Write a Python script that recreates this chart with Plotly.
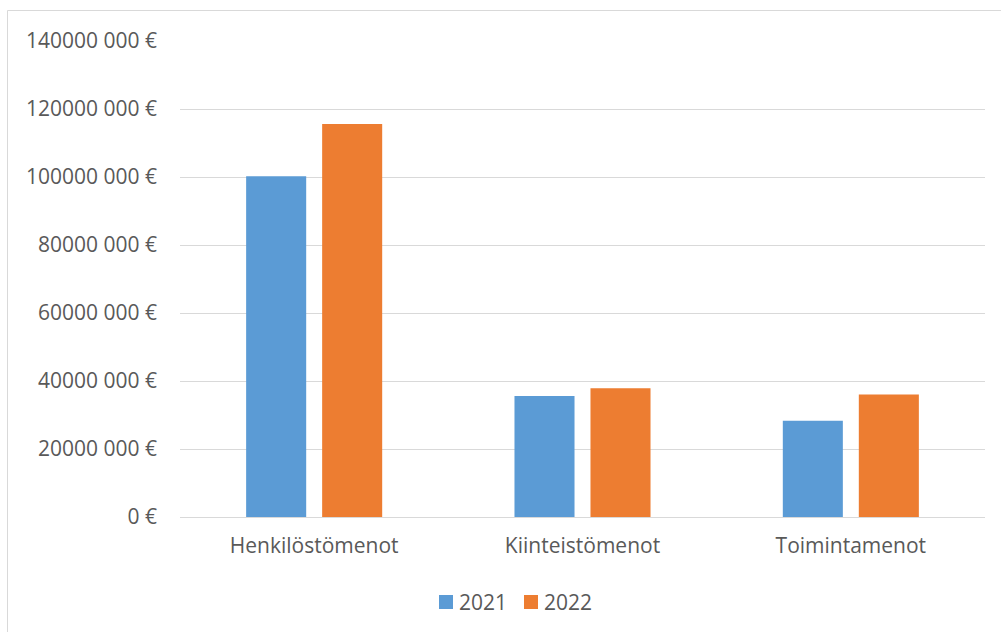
import plotly.graph_objects as go

# Expense categories and yearly amounts (EUR)
categories = ["Henkilöstömenot", "Kiinteistömenot", "Toimintamenot"]
years = ["2021", "2022"]
values_2021 = [100_200_000, 35_600_000, 28_300_000]
values_2022 = [115_600_000, 37_900_000, 36_000_000]
colors = ["#5B9BD5", "#ED7D31"]
tick_values = [0, 20_000_000, 40_000_000, 60_000_000, 80_000_000, 100_000_000, 120_000_000, 140_000_000]


def euro_label(v):
    if v == 0:
        return "0 €"
    return f"{v // 1000} 000 €"


tick_text = [euro_label(v) for v in tick_values]

FONT = "Open Sans"
FONT_SIZE = 21
TEXT_COLOR = "#595959"
GRID = "#d9d9d9"

fig = go.Figure()
for year, vals, col in zip(years, [values_2021, values_2022], colors):
    fig.add_trace(go.Bar(name=year, x=categories, y=vals, marker_color=col,
                         marker_line_width=0, showlegend=False))

W, H = 1001, 632
L, R, T, B = 180, 16, 41, 115
pw, ph = W - L - R, H - T - B


def px_to_paper_x(px):
    return (px - L) / pw


def px_to_paper_y(py):
    return (H - B - py) / ph


# Compact legend: small colour squares followed by the year labels
shapes = [dict(type="rect", xref="paper", yref="paper",
               x0=px_to_paper_x(7.5), x1=px_to_paper_x(1010),
               y0=px_to_paper_y(640), y1=px_to_paper_y(10.5),
               line=dict(color=GRID, width=1), fillcolor="rgba(0,0,0,0)", layer="below")]
annotations = []
legend_x = [439, 524]
for lx, year, col in zip(legend_x, years, colors):
    shapes.append(dict(type="rect", xref="paper", yref="paper",
                       x0=px_to_paper_x(lx), x1=px_to_paper_x(lx + 14),
                       y0=px_to_paper_y(609), y1=px_to_paper_y(595),
                       line=dict(width=0), fillcolor=col))
    annotations.append(dict(xref="paper", yref="paper", x=px_to_paper_x(lx + 18),
                            y=px_to_paper_y(602), xanchor="left", yanchor="middle",
                            text=year, showarrow=False,
                            font=dict(family=FONT, size=FONT_SIZE, color=TEXT_COLOR)))

fig.update_layout(
    width=W, height=H,
    margin=dict(l=L, r=R, t=T, b=B),
    paper_bgcolor="white", plot_bgcolor="white",
    barmode="group", bargap=0.4335, bargroupgap=0.21,
    font=dict(family=FONT, size=FONT_SIZE, color=TEXT_COLOR),
    showlegend=False,
    xaxis=dict(showgrid=False, showline=False, ticks="", tickfont=dict(size=FONT_SIZE),
               ticklabelstandoff=14),
    yaxis=dict(range=[0, 140_000_000], tickvals=tick_values, ticktext=tick_text,
               showgrid=True, gridcolor=GRID, gridwidth=1, zeroline=True,
               zerolinecolor=GRID, zerolinewidth=1, showline=False, ticks="",
               ticklabelstandoff=22, tickfont=dict(size=FONT_SIZE)),
    shapes=shapes,
    annotations=annotations,
)

fig.write_html("out.html")
